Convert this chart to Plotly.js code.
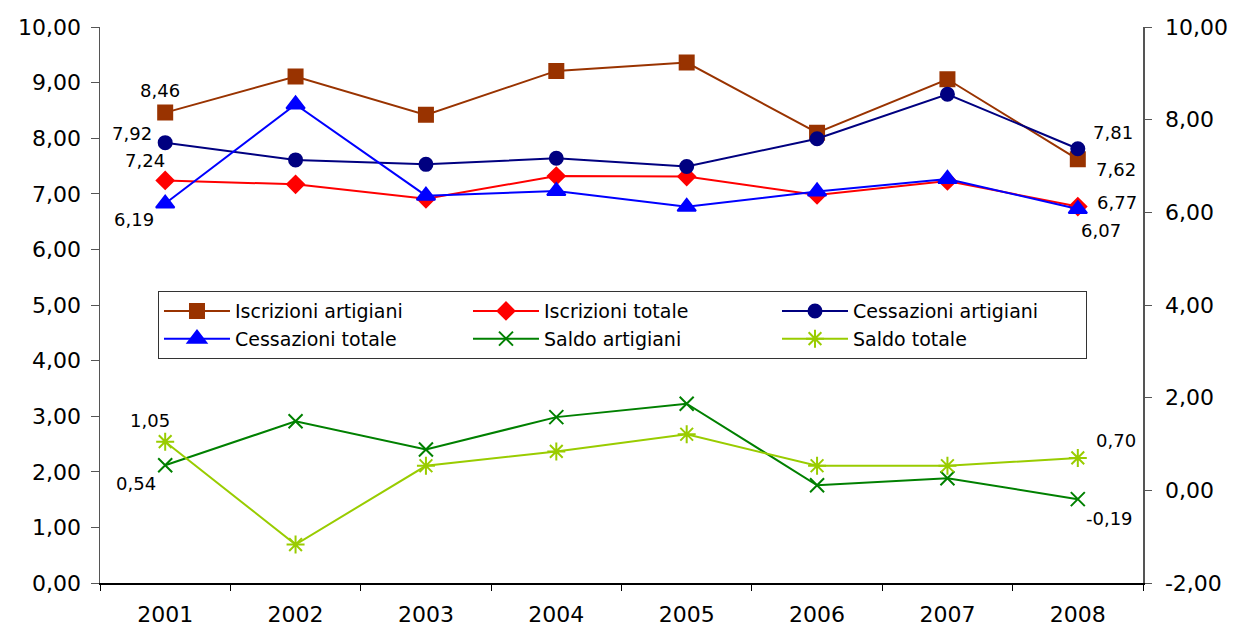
<!DOCTYPE html>
<html>
<head>
<meta charset="utf-8">
<script src="https://cdn.plot.ly/plotly-3.0.1.min.js"></script>
<style>html,body{margin:0;padding:0;background:#fff;}#chart{width:1236px;height:628px;}</style>
</head>
<body>
<div id="chart"></div>
<script>
// ---- data ----
const years = ['2001', '2002', '2003', '2004', '2005', '2006', '2007', '2008'];
const iscrizioniArtigiani = [8.46, 9.11, 8.42, 9.21, 9.36, 8.10, 9.06, 7.62];
const iscrizioniTotale    = [7.24, 7.17, 6.91, 7.32, 7.31, 6.98, 7.23, 6.77];
const cessazioniArtigiani = [7.92, 7.61, 7.53, 7.64, 7.49, 7.99, 8.79, 7.81];
const cessazioniTotale    = [6.19, 8.33, 6.36, 6.46, 6.12, 6.45, 6.72, 6.07];
const saldoArtigiani      = [0.54, 1.49, 0.88, 1.58, 1.87, 0.11, 0.26, -0.19];
const saldoTotale         = [1.05, -1.17, 0.53, 0.84, 1.21, 0.53, 0.53, 0.70];
const seriesNames = ['Iscrizioni artigiani', 'Iscrizioni totale', 'Cessazioni artigiani',
                     'Cessazioni totale', 'Saldo artigiani', 'Saldo totale'];
const leftTickVals  = [0, 1, 2, 3, 4, 5, 6, 7, 8, 9, 10];
const rightTickVals = [-2, 0, 2, 4, 6, 8, 10];

// ---- styling ----
const FONT = 'DejaVu Sans, Liberation Sans, Arial, sans-serif';
const fmt = v => v.toFixed(2).replace('.', ',');

const styles = [
  {data: iscrizioniArtigiani, axis: 'y',  color: '#993300', symbol: 'square',       size: 14, first: [-5, 22],  last: [38, -10]},
  {data: iscrizioniTotale,    axis: 'y',  color: '#FF0000', symbol: 'diamond',      size: 13, first: [-20, 20], last: [39, 4]},
  {data: cessazioniArtigiani, axis: 'y',  color: '#000080', symbol: 'circle',       size: 13, first: [-33, 9],  last: [35, 16]},
  {data: cessazioniTotale,    axis: 'y2', color: '#0000FF', symbol: 'triangle-up',  size: 16, first: [-31, -16],last: [23, -21]},
  {data: saldoArtigiani,      axis: 'y2', color: '#008000', symbol: 'x-thin-open',  size: 14, first: [-29, -18],last: [32, -19]},
  {data: saldoTotale,         axis: 'y2', color: '#99CC00', symbol: 'asterisk-open',size: 15, first: [-15, 21], last: [38, 17]}
];

const traces = styles.map((s, i) => ({
  type: 'scatter',
  mode: 'lines+markers',
  name: seriesNames[i],
  x: years,
  y: s.data,
  yaxis: s.axis,
  line: {color: s.color, width: 2},
  marker: {symbol: s.symbol, size: s.size, color: s.color, line: {color: s.color, width: 2}},
  hoverinfo: 'x+y+name'
}));

const annotations = [];
styles.forEach(s => {
  const yref = s.axis;
  const last = s.data.length - 1;
  annotations.push({x: 0, y: s.data[0], xref: 'x', yref: yref, text: fmt(s.data[0]),
    showarrow: false, xshift: s.first[0], yshift: s.first[1], font: {family: FONT, size: 18, color: '#000'}});
  annotations.push({x: last, y: s.data[last], xref: 'x', yref: yref, text: fmt(s.data[last]),
    showarrow: false, xshift: s.last[0], yshift: s.last[1], font: {family: FONT, size: 18, color: '#000'}});
});

const tickFont = {family: FONT, size: 22, color: '#000'};

const layout = {
  width: 1236,
  height: 628,
  autosize: false,
  separators: ',.',
  paper_bgcolor: '#fff',
  plot_bgcolor: '#fff',
  margin: {l: 100, r: 93, t: 27, b: 45, pad: 0},
  font: {family: FONT, color: '#000'},
  showlegend: true,
  legend: {
    orientation: 'h',
    x: 0.0556, xanchor: 'left',
    y: 0.525, yanchor: 'top',
    bgcolor: '#fff',
    bordercolor: '#333',
    borderwidth: 1,
    entrywidth: 228,
    entrywidthmode: 'pixels',
    itemwidth: 66,
    traceorder: 'normal',
    font: {family: FONT, size: 19, color: '#000'}
  },
  xaxis: {
    type: 'category',
    range: [-0.5, 7.5],
    tickson: 'boundaries',
    ticks: 'outside', ticklen: 6, tickcolor: '#000', tickwidth: 1,
    showline: true, linecolor: '#000', linewidth: 1.5,
    showgrid: false, zeroline: false,
    tickfont: tickFont,
    ticklabelstandoff: 11,
    fixedrange: true
  },
  xaxis2: {
    overlaying: 'x', anchor: 'y', side: 'bottom',
    type: 'linear', range: [-0.5, 7.5], tick0: -0.5, dtick: 1,
    ticks: 'inside', ticklen: 6, tickcolor: '#000', tickwidth: 1,
    showticklabels: false, showline: false, showgrid: false, zeroline: false
  },
  yaxis: {
    range: [0, 10],
    tickmode: 'array', tickvals: leftTickVals, ticktext: leftTickVals.map(fmt),
    ticks: 'outside', ticklen: 8, tickcolor: '#555', tickwidth: 1,
    showline: true, linecolor: '#555', linewidth: 1.5,
    showgrid: false, zeroline: false,
    tickfont: tickFont,
    ticklabelstandoff: 5,
    fixedrange: true
  },
  yaxis2: {
    overlaying: 'y', side: 'right', anchor: 'x',
    range: [-2, 10],
    tickmode: 'array', tickvals: rightTickVals, ticktext: rightTickVals.map(fmt),
    ticks: 'outside', ticklen: 7, tickcolor: '#555', tickwidth: 1,
    showline: true, linecolor: '#555', linewidth: 1.5,
    showgrid: false, zeroline: false,
    tickfont: tickFont,
    ticklabelstandoff: 9,
    fixedrange: true
  },
  yaxis3: {
    overlaying: 'y', side: 'left', anchor: 'x',
    range: [0, 10], tickmode: 'array', tickvals: leftTickVals,
    ticks: 'inside', ticklen: 7, tickcolor: '#555', tickwidth: 1,
    showticklabels: false, showline: false, showgrid: false, zeroline: false
  },
  yaxis4: {
    overlaying: 'y', side: 'right', anchor: 'x',
    range: [-2, 10], tickmode: 'array', tickvals: rightTickVals,
    ticks: 'inside', ticklen: 7, tickcolor: '#555', tickwidth: 1,
    showticklabels: false, showline: false, showgrid: false, zeroline: false
  },
  annotations: annotations
};

Plotly.newPlot('chart', traces, layout, {displayModeBar: false, staticPlot: true});
</script>
</body>
</html>
